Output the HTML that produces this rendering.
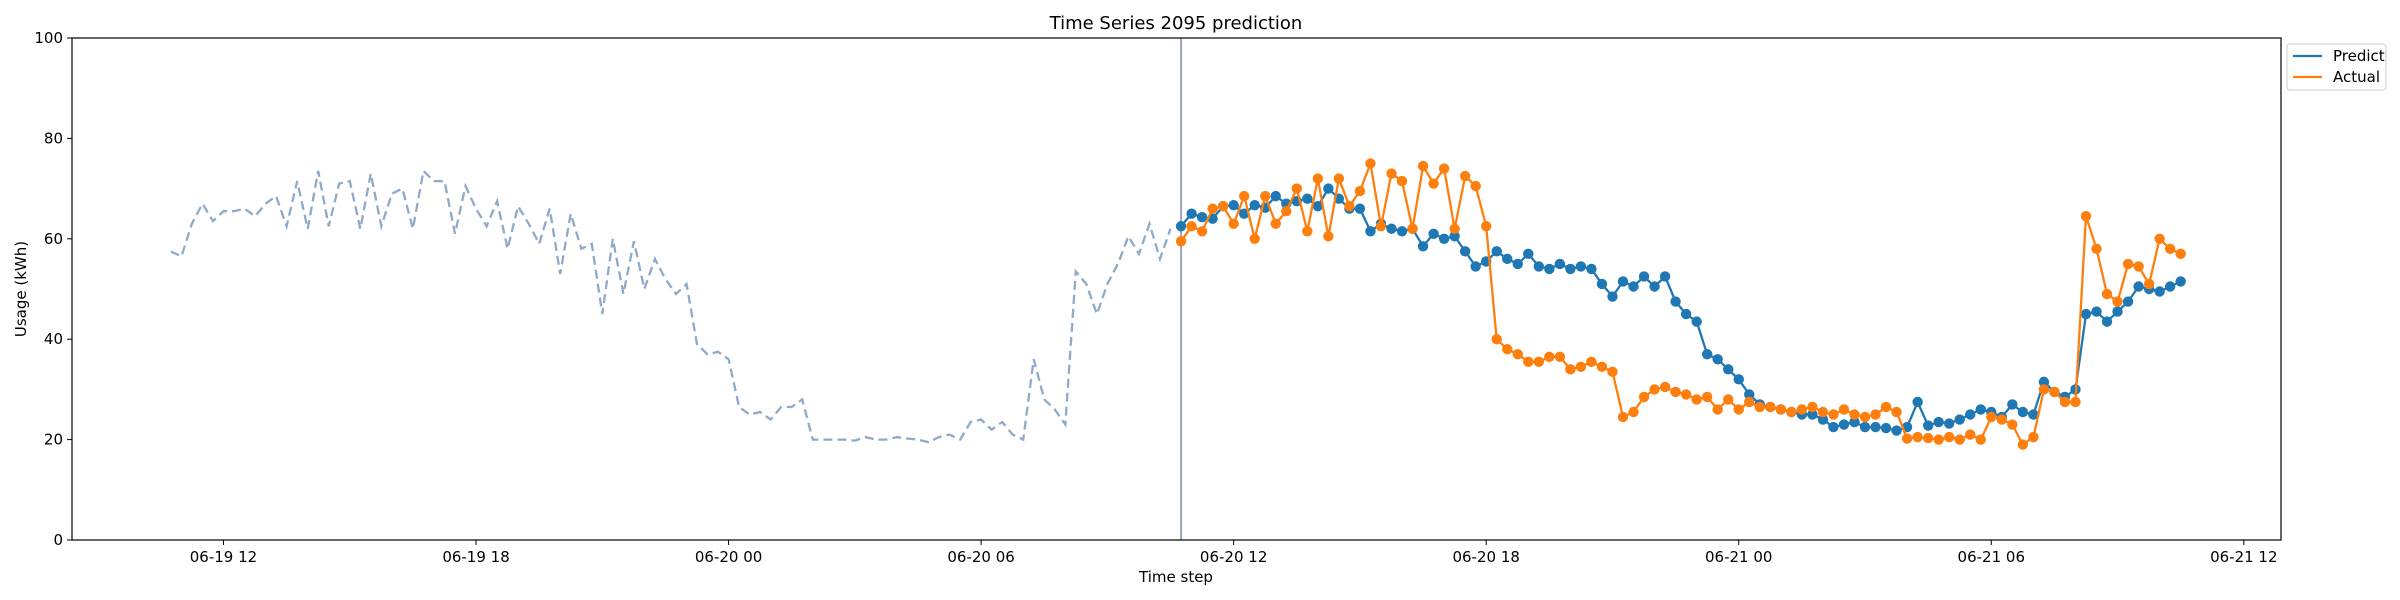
<!DOCTYPE html>
<html><head><meta charset="utf-8"><style>
body{margin:0;background:#fff}
svg{display:block;font-family:"DejaVu Sans","Liberation Sans",sans-serif}
</style></head><body>
<svg id="chart" width="2400" height="600" viewBox="0 0 2400 600">
<rect width="2400" height="600" fill="#fff"/>
<text x="1176" y="29" font-size="18" text-anchor="middle">Time Series 2095 prediction</text>
<g id="grid"></g>
<g id="marks"></g>
<rect x="72" y="38" width="2209" height="502" fill="none" stroke="#000" stroke-width="1.2"/>
<text x="1176" y="582" font-size="15" text-anchor="middle">Time step</text>
<text transform="translate(26,289) rotate(-90)" font-size="15" text-anchor="middle">Usage (kWh)</text>
<g>
<rect x="2287" y="44" width="99" height="46" rx="3" fill="#fff" stroke="#ccc"/>
<line x1="2293" y1="56" x2="2322" y2="56" stroke="#1f77b4" stroke-width="2.2"/>
<text x="2333" y="61" font-size="15">Predict</text>
<line x1="2293" y1="77" x2="2322" y2="77" stroke="#ff7f0e" stroke-width="2.2"/>
<text x="2333" y="82" font-size="15">Actual</text>
</g>
</svg>
<script>
const historyStart = 10.75;
const forecastStart = 34.75;
const stepHours = 0.25;
const historyValues = [57.5,56.5,63,67,63.5,65.5,65.5,66,64.5,67,68.5,62.5,71.5,62,73.5,62.5,71,71.5,62,73,62.5,69,70,62,73.5,71.5,71.5,61,70.5,66,62.5,67.5,58,66.5,63,59,66,53,65,58,59,45,60,49,59.5,50,56,52,49,51,39,37,37.5,36,26.5,25,25.5,24,26.5,26.5,28,20,20,20,20,19.8,20.5,20,20,20.5,20.2,20,19.5,20.5,21,20,23.5,24,22,23.5,21,20,36,28,26,23,53.5,51,45,51,55,60.5,57,63,56,62];
const predictValues = [62.5,65,64.3,64,66.5,66.7,65,66.7,66.2,68.5,67,67.5,68,66.5,70,68,66,66,61.5,63,62,61.5,62,58.5,61,60,60.5,57.5,54.5,55.5,57.5,56,55,57,54.5,54,55,54,54.5,54,51,48.5,51.5,50.5,52.5,50.5,52.5,47.5,45,43.5,37,36,34,32,29,27,26.5,26,25.5,25,25,24,22.5,23,23.5,22.5,22.5,22.3,21.8,22.5,27.5,22.8,23.5,23.2,24,25,26,25.5,24.5,27,25.5,25,31.5,29.5,28.5,30,45,45.5,43.5,45.5,47.5,50.5,50,49.5,50.5,51.5];
const actualValues = [59.5,62.5,61.5,66,66.5,63,68.5,60,68.5,63,65.5,70,61.5,72,60.5,72,66.5,69.5,75,62.5,73,71.5,62,74.5,71,74,62,72.5,70.5,62.5,40,38,37,35.5,35.5,36.5,36.5,34,34.5,35.5,34.5,33.5,24.5,25.5,28.5,30,30.5,29.5,29,28,28.5,26,28,26,27.5,26.5,26.5,26,25.5,26,26.5,25.5,25,26,25,24.5,25,26.5,25.5,20.2,20.5,20.3,20,20.5,20,21,20,24.5,24,23,19,20.5,30,29.5,27.5,27.5,64.5,58,49,47.5,55,54.5,51,60,58,57];
const yTicks = [0,20,40,60,80,100];
const xTickHours = [12,18,24,30,36,42,48,54,60];
const xTickLabels = ["06-19 12","06-19 18","06-20 00","06-20 06","06-20 12","06-20 18","06-21 00","06-21 06","06-21 12"];

const NS = "http://www.w3.org/2000/svg";
const X = h => 223.5 + (h - 12) * 42.09;
const Y = v => 540 - v * 5.02;
function mk(tag, attrs, parent){const e=document.createElementNS(NS,tag);for(const k in attrs)e.setAttribute(k,attrs[k]);parent.appendChild(e);return e;}
const grid = document.getElementById('grid'), marks = document.getElementById('marks');

yTicks.forEach(v=>{
  const t = mk('line',{x1:67,x2:72,y1:Y(v),y2:Y(v),stroke:'#000'},grid);
  
  
  const l = mk('text',{x:63,y:Y(v)+5,'font-size':15,'text-anchor':'end'},grid);
  l.textContent = v;
  
  
});
xTickHours.forEach((h,i)=>{
  const t = mk('line',{x1:X(h),x2:X(h),y1:540,y2:545,stroke:'#000'},grid);
  
  
  const l = mk('text',{x:X(h),y:562,'font-size':15,'text-anchor':'middle'},grid);
  l.textContent = xTickLabels[i];
  
  
});

const pts = (arr,start)=>arr.map((v,i)=>X(start+i*stepHours).toFixed(1)+','+Y(v).toFixed(1)).join(' ');
const hist = mk('polyline',{points:pts(historyValues,historyStart),fill:'none',stroke:'#8eaac8','stroke-width':2.3,'stroke-dasharray':'9,5'},marks);


const vl = mk('line',{x1:X(forecastStart),x2:X(forecastStart),y1:38,y2:540,stroke:'#9aa6c8','stroke-width':2},marks);



function series(arr,color,name){
  const pl = mk('polyline',{points:pts(arr,forecastStart),fill:'none',stroke:color,'stroke-width':2.3},marks);
  
  
  arr.forEach((v,i)=>{
    const c = mk('circle',{cx:X(forecastStart+i*stepHours),cy:Y(v),r:5.2,fill:color},marks);
    
    
  });
}
series(predictValues,'#1f77b4','predict');
series(actualValues,'#ff7f0e','actual');
</script>
</body></html>
